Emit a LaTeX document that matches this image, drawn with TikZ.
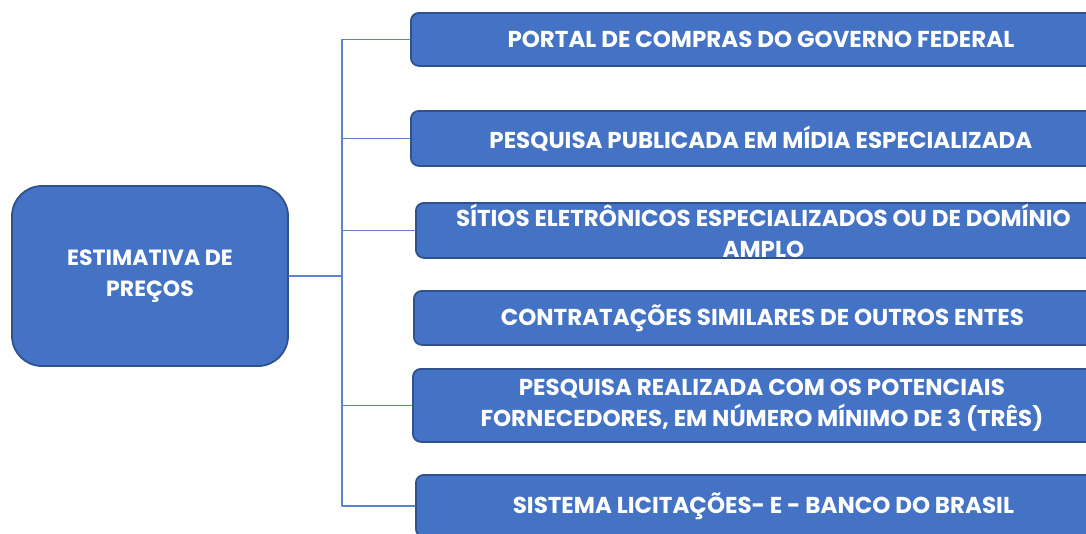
\documentclass[tikz,border=0pt]{standalone}
\usepackage{fontspec}
\setmainfont{Poppins}
\usepackage{tikz}
\usetikzlibrary{positioning}
\definecolor{boxfill}{HTML}{4472C4}
\definecolor{boxline}{HTML}{2F528F}
\definecolor{linkline}{HTML}{5B84D0}
\tikzset{
  mainbox/.style={draw=boxline, line width=1.8pt, fill=boxfill, rounded corners=30pt,
    minimum width=276pt, minimum height=180pt, text=white, align=center,
    font=\fontsize{22}{31}\selectfont\bfseries},
  itembox/.style={draw=boxline, line width=1.8pt, fill=boxfill, rounded corners=8pt,
    anchor=north west, inner sep=0pt, text=white, align=center,
    font=\fontsize{23}{31}\selectfont\bfseries},
  link/.style={draw=linkline, line width=1.2pt}
}
\begin{document}
\begin{tikzpicture}[line cap=round,line join=round,x=1pt,y=-1pt]
\useasboundingbox (0,0) rectangle (1086,533);
\clip (0,0) rectangle (1086,533);
% central box
\node[mainbox] (estimativa) at (150,276) {ESTIMATIVA DE\\PREÇOS};
% items
\node[itembox, minimum width=700pt, minimum height=53pt] (portal) at (410,12) {PORTAL DE COMPRAS DO GOVERNO FEDERAL};
\node[itembox, minimum width=700pt, minimum height=55pt] (midia) at (410,110) {PESQUISA PUBLICADA EM MÍDIA ESPECIALIZADA};
\node[itembox, minimum width=695pt, minimum height=55pt] (sitios) at (415,202) {SÍTIOS ELETRÔNICOS ESPECIALIZADOS OU DE DOMÍNIO\\AMPLO};
\node[itembox, minimum width=697pt, minimum height=54pt] (entes) at (413,290) {CONTRATAÇÕES SIMILARES DE OUTROS ENTES};
\node[itembox, minimum width=698pt, minimum height=73pt] (fornec) at (412,368) {PESQUISA REALIZADA COM OS POTENCIAIS\\FORNECEDORES, EM NÚMERO MÍNIMO DE 3 (TRÊS)};
\node[itembox, minimum width=695pt, minimum height=62pt] (sistema) at (415,474) {SISTEMA LICITAÇÕES- E - BANCO DO BRASIL};
% connectors
\coordinate (trunk) at (342,0);
\draw[link] (portal.west -| trunk) -- (sistema.west -| trunk);
\draw[link] (estimativa.east) -- (estimativa.east -| trunk);
\draw[link] (portal.west -| trunk) -- (portal.west);
\draw[link] (midia.west -| trunk) -- (midia.west);
\draw[link] (sitios.west -| trunk) -- (sitios.west);
\draw[link] (fornec.west -| trunk) -- (fornec.west);
\draw[link] (sistema.west -| trunk) -- (sistema.west);
\end{tikzpicture}
\end{document}
